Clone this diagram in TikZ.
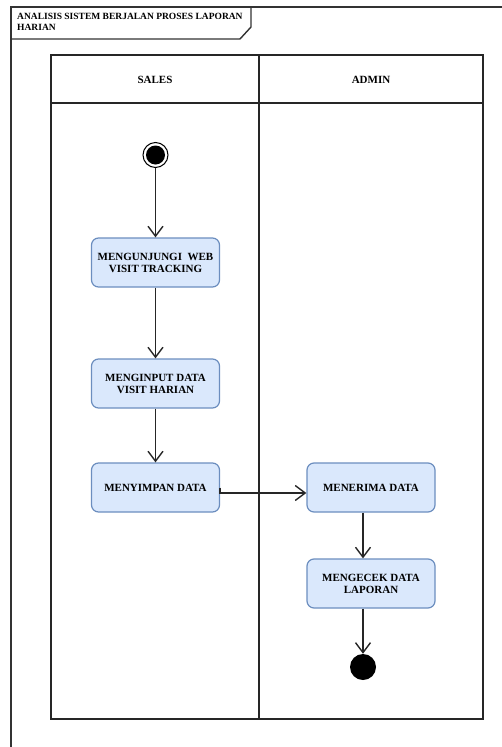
\documentclass[tikz,border=0pt]{standalone}
\usepackage{fontspec}
\setmainfont{Liberation Serif}
\usetikzlibrary{arrows.meta}
\definecolor{actfill}{HTML}{DAE8FC}
\definecolor{actline}{HTML}{6C8EBF}
\begin{document}
\begin{tikzpicture}[x=1pt,y=-1pt,
  frameline/.style={line width=1.4pt,draw=black!80},
  poolline/.style={line width=1.6pt,draw=black!85},
  activity/.style={draw=actline,fill=actfill,line width=1.2pt,rounded corners=7pt,
    minimum width=128pt,minimum height=49pt,align=center,inner sep=2pt,
    font=\fontsize{11}{12}\selectfont\bfseries},
  header/.style={font=\fontsize{11}{12}\selectfont\bfseries},
  flow/.style={line width=1.4pt,draw=black!85,-{Straight Barb[length=10pt,width=15pt,line width=1.4pt]}}]
\useasboundingbox (0,0) rectangle (502,747);

% outer frame with its name tab
\draw[frameline] (11,747) -- (11,7) -- (502,7);
\draw[frameline] (11,39) -- (240,39) -- (251,27) -- (251,7);
\node[anchor=north west,align=left,inner sep=0pt,
  font=\fontsize{9.5}{11}\selectfont\bfseries] (title) at (17,13)
  {ANALISIS SISTEM BERJALAN PROSES LAPORAN\\HARIAN};

% swimlane pool
\draw[poolline] (51,55) rectangle (483,719);
\draw[poolline] (51,103) -- (483,103);
\draw[poolline] (259,55) -- (259,719);
\node[header] (sales) at (155,80) {SALES};
\node[header] (admin) at (371,80) {ADMIN};

% start and end
\node[circle,draw=black,line width=1pt,fill=white,minimum size=25pt,inner sep=0pt] (start) at (155.5,155) {};
\fill[black] (start.center) circle (9.5);
\node[circle,fill=black,minimum size=26pt,inner sep=0pt] (fin) at (363,667) {};

% activities
\node[activity] (b1) at (155.5,262.5) {MENGUNJUNGI\ \ WEB\\VISIT TRACKING};
\node[activity] (b2) at (155.5,383.5) {MENGINPUT DATA\\VISIT HARIAN};
\node[activity] (b3) at (155.5,487.5) {MENYIMPAN DATA};
\node[activity] (b4) at (371,487.5) {MENERIMA DATA};
\node[activity] (b5) at (371,583.5) {MENGECEK DATA\\LAPORAN};

% control flow
\draw[flow] (start) -- (b1);
\draw[flow] (b1) -- (b2);
\draw[flow] (b2) -- (b3);
\draw[flow] (b3.east) -- ++(0,5.5) -- ([yshift=-5.5pt]b4.west);
\draw[flow] (b4.south -| fin) -- (b5.north -| fin);
\draw[flow] (b5.south -| fin) -- (fin);
\end{tikzpicture}
\end{document}
